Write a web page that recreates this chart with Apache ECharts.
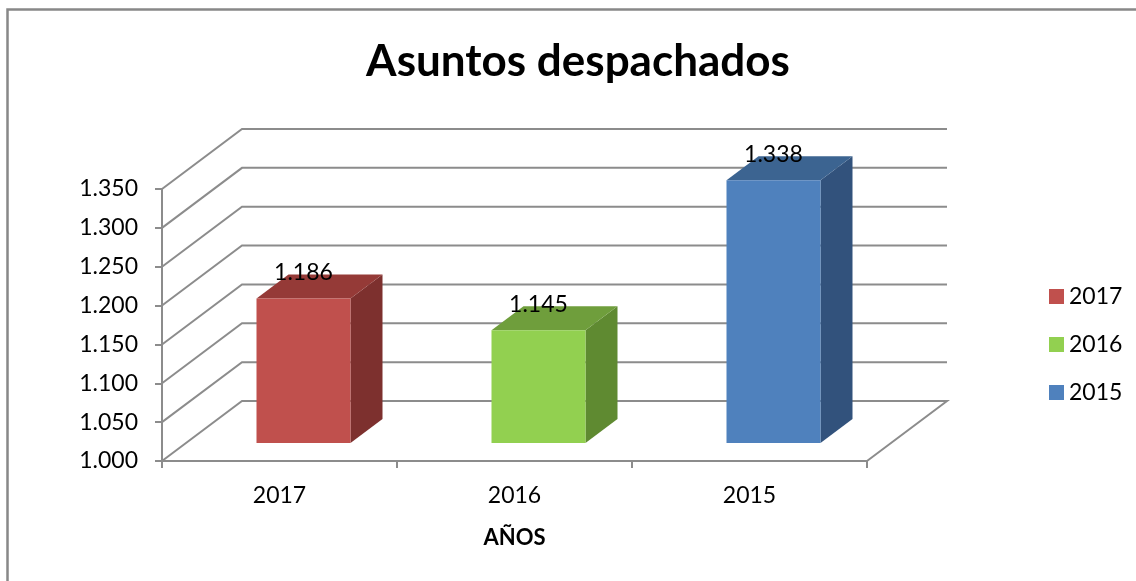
<!DOCTYPE html>
<html>
<head>
<meta charset="utf-8">
<script src="https://cdn.jsdelivr.net/npm/echarts@6/dist/echarts.min.js"></script>
<style>html,body{margin:0;padding:0;background:#fff;}#c{width:1136px;height:581px;}</style>
</head>
<body>
<div id="c"></div>
<script>
const categories = ["2017", "2016", "2015"];
const seriesNames = ["2017", "2016", "2015"];
const values = [1186, 1145, 1338];
const yTicks = [1000, 1050, 1100, 1150, 1200, 1250, 1300, 1350];
const titleText = "Asuntos despachados";
const xName = "AÑOS";

const FONT = 'Lato, "Open Sans", sans-serif';
const GRID = '#8c8c8c';
const DEPTH_X = 80, DEPTH_Y = 60;      // wall depth in px
const F1 = 0.3, F2 = 0.7;              // bar depth range (fraction of depth)
const colors = [
  {front: '#C0504D', top: '#953A37', side: '#7D302E'},
  {front: '#92D050', top: '#6F9E3C', side: '#5F8A31'},
  {front: '#4F81BD', top: '#3C6491', side: '#32527C'}
];

function fmt(v){
  const s = String(Math.round(v));
  return s.length > 3 ? s.slice(0, s.length-3) + '.' + s.slice(-3) : s;
}

const chart = echarts.init(document.getElementById('c'), null, {renderer: 'canvas'});

function wallRender(params, api){
  const cs = params.coordSys;
  const y = api.coord([0, api.value(1)])[1];
  const x0 = cs.x, x1 = cs.x + cs.width;
  const pts = [[x0, y], [x0 + DEPTH_X, y - DEPTH_Y], [x1 + DEPTH_X, y - DEPTH_Y]];
  if (params.dataIndex === 0) pts.push([x1, y]);
  return {
    type: 'polyline',
    shape: {points: pts},
    style: {stroke: GRID, lineWidth: 2, fill: null},
    silent: true
  };
}

function barRender(ci){
  return function(params, api){
    const idx = api.value(0);
    const v = api.value(1);
    const top0 = api.coord([idx, v]);
    const base0 = api.coord([idx, yTicks[0]]);
    const bw = api.size([1, 0])[0] * 0.4;
    const ox1 = DEPTH_X * F1, oy1 = DEPTH_Y * F1;
    const dx = DEPTH_X * (F2 - F1), dy = DEPTH_Y * (F2 - F1);
    const cx = top0[0] + ox1;
    const l = cx - bw / 2, r = cx + bw / 2;
    const t = top0[1] - oy1, b = base0[1] - oy1;
    const c = colors[ci];
    return {
      type: 'group',
      children: [
        {type: 'polygon', shape: {points: [[r, t], [r + dx, t - dy], [r + dx, b - dy], [r, b]]}, style: {fill: c.side}},
        {type: 'polygon', shape: {points: [[l, t], [l + dx, t - dy], [r + dx, t - dy], [r, t]]}, style: {fill: c.top}},
        {type: 'rect', shape: {x: l, y: t, width: bw, height: b - t}, style: {fill: c.front}},
        {type: 'text', x: cx, y: t - 26, style: {text: fmt(v), fill: '#000', font: '23px ' + FONT, align: 'center', verticalAlign: 'middle'}}
      ]
    };
  };
}

const series = [{
  type: 'custom',
  name: '_walls',
  renderItem: wallRender,
  data: yTicks.map(v => [0, v]),
  encode: {x: 0, y: 1},
  clip: false,
  silent: true,
  z: 1
}];
seriesNames.forEach((n, i) => {
  series.push({
    type: 'custom',
    name: n,
    color: colors[i].front,
    itemStyle: {color: colors[i].front},
    renderItem: barRender(i),
    data: [[i, values[i]]],
    encode: {x: 0, y: 1},
    clip: false,
    z: 5
  });
});

chart.setOption({
  animation: false,
  backgroundColor: '#fff',
  title: {
    text: titleText,
    left: 573, top: 35, textAlign: 'center',
    textStyle: {fontFamily: FONT, fontWeight: 'bold', fontSize: 44, color: '#000'}
  },
  legend: {
    data: seriesNames,
    orient: 'vertical',
    left: 1044, top: 280,
    icon: 'rect', itemWidth: 15, itemHeight: 15, itemGap: 25,
    textStyle: {fontFamily: FONT, fontSize: 23, color: '#000', lineHeight: 23}
  },
  grid: {left: 162, right: 269, top: 189, bottom: 120, containLabel: false},
  xAxis: {
    type: 'category', data: categories,
    name: xName, nameLocation: 'middle', nameGap: 66,
    nameTextStyle: {fontFamily: FONT, fontWeight: 'bold', fontSize: 22, color: '#000'},
    axisLine: {show: true, lineStyle: {color: GRID, width: 2}},
    axisTick: {show: true, length: 7, lineStyle: {color: GRID, width: 2}},
    axisLabel: {fontFamily: FONT, fontSize: 23, color: '#000', margin: 23},
    splitLine: {show: false}
  },
  yAxis: {
    type: 'value', min: 1000, max: 1350, interval: 50,
    axisLine: {show: true, lineStyle: {color: GRID, width: 2}},
    axisTick: {show: true, length: 7, lineStyle: {color: GRID, width: 2}},
    axisLabel: {fontFamily: FONT, fontSize: 23, color: '#000', margin: 24, formatter: fmt},
    splitLine: {show: false}
  },
  graphic: [{
    type: 'rect', shape: {x: 7.5, y: 9.5, width: 1300, height: 800},
    style: {fill: null, stroke: '#888', lineWidth: 2.5}, silent: true, z: 0
  }],
  series: series
});
</script>
</body>
</html>
